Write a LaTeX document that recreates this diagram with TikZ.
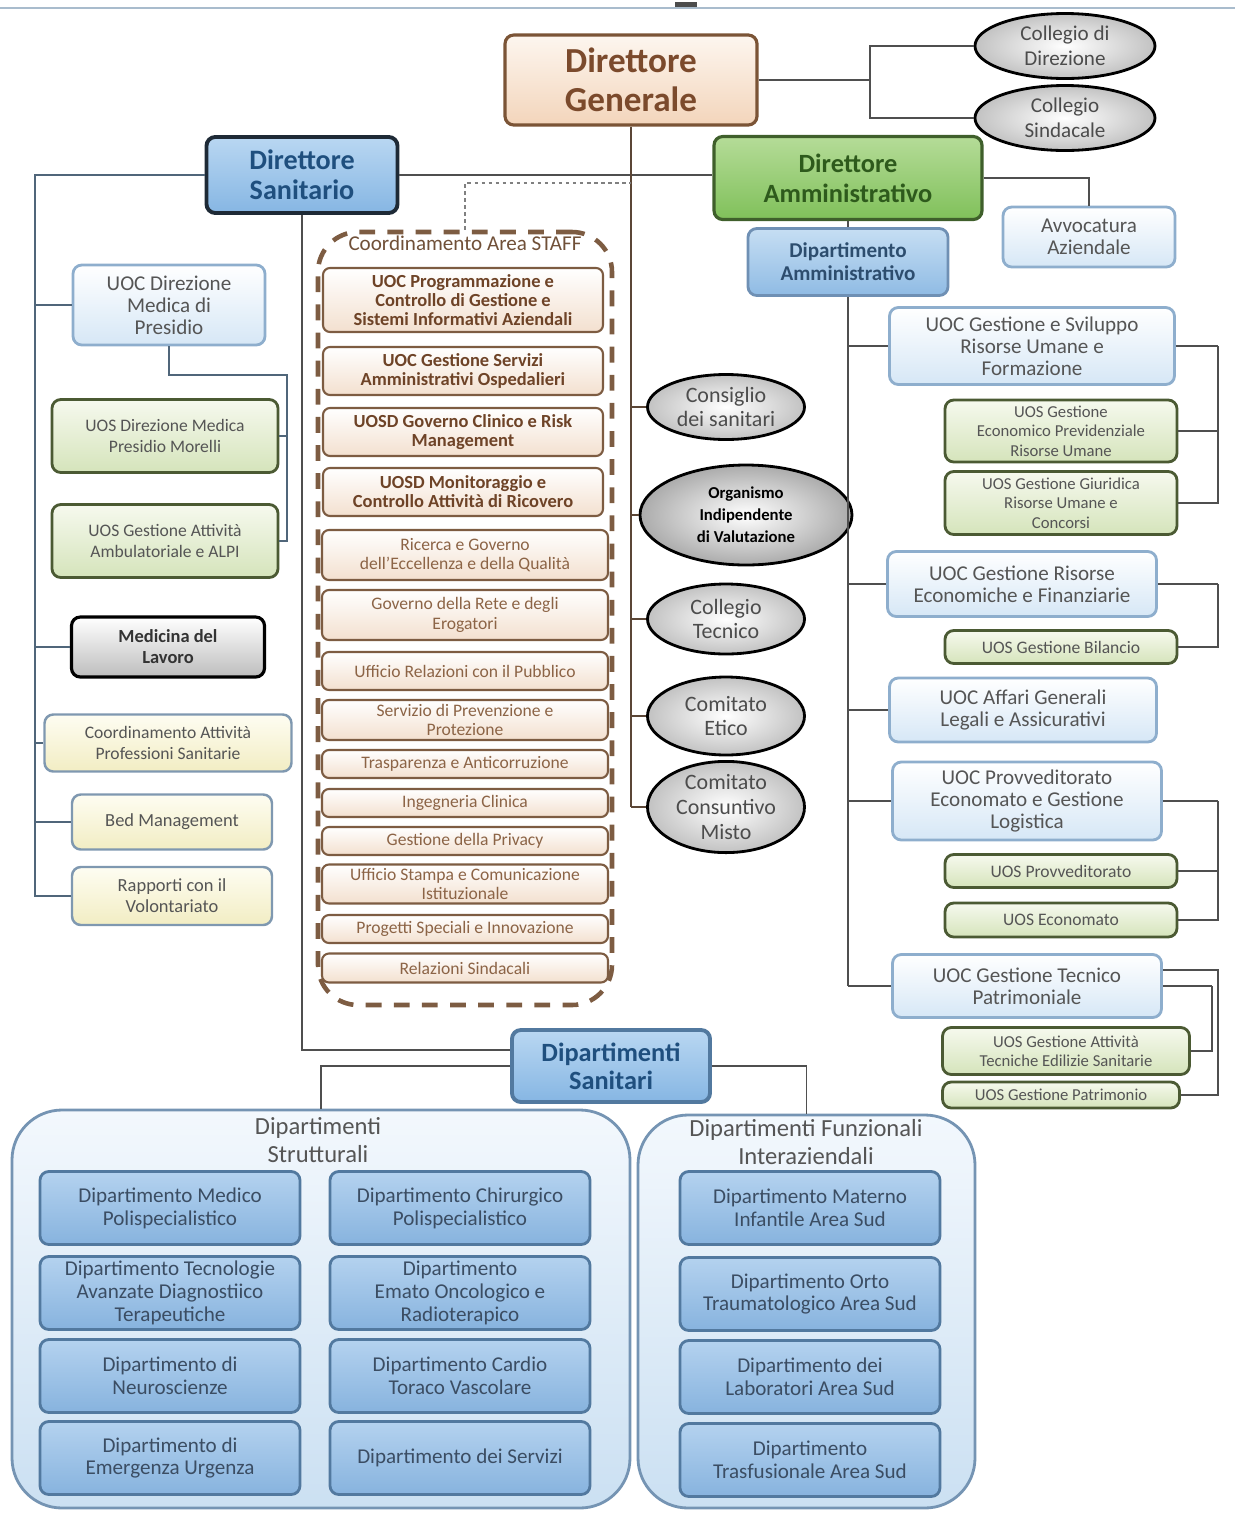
\documentclass[tikz,border=0pt]{standalone}
\usepackage{fontspec}
\setmainfont{Carlito}
\usetikzlibrary{shapes.geometric}

\definecolor{genhi}{HTML}{FDF6EF}\definecolor{genlo}{HTML}{F3D5BB}
\definecolor{genbrd}{HTML}{7B5436}\definecolor{gentxt}{HTML}{7B4A2C}
\definecolor{dshi}{HTML}{B9D7F2}\definecolor{dslo}{HTML}{86B6E3}
\definecolor{dsbrd}{HTML}{1E2A36}\definecolor{dstxt}{HTML}{1F4F7E}
\definecolor{dahi}{HTML}{B5DC98}\definecolor{dalo}{HTML}{80C05A}
\definecolor{dabrd}{HTML}{3F5F2B}\definecolor{datxt}{HTML}{2E5A1C}
\definecolor{damhi}{HTML}{C6DEF3}\definecolor{damlo}{HTML}{8FBBE4}
\definecolor{dambrd}{HTML}{6F90B4}\definecolor{damtxt}{HTML}{2D4D6E}
\definecolor{lblo}{HTML}{D6E7F6}\definecolor{lbbrd}{HTML}{8EAECD}
\definecolor{grhi}{HTML}{F6F9EE}\definecolor{grlo}{HTML}{D5E4BB}
\definecolor{grbrd}{HTML}{4B5A33}
\definecolor{yehi}{HTML}{FEFDF2}\definecolor{yelo}{HTML}{F2EDC3}
\definecolor{yebrd}{HTML}{7F98B0}
\definecolor{gylo}{HTML}{BDBDBD}
\definecolor{stlo}{HTML}{F3E0CF}\definecolor{stbrd}{HTML}{7D5C42}
\definecolor{sttxt}{HTML}{6E4327}\definecolor{sttxtl}{HTML}{8C6446}
\definecolor{elout}{HTML}{C2C2C2}\definecolor{eloutd}{HTML}{ABABAB}
\definecolor{dephi}{HTML}{B4D2EF}\definecolor{deplo}{HTML}{87B3DE}
\definecolor{depbrd}{HTML}{52799F}\definecolor{deptxt}{HTML}{3B4D63}
\definecolor{grphi}{HTML}{F3F8FD}\definecolor{grplo}{HTML}{CBE0F2}
\definecolor{grpbrd}{HTML}{7594B3}
\definecolor{txtgray}{HTML}{555555}
\definecolor{linkc}{HTML}{4F4F4F}\definecolor{linkl}{HTML}{50667A}
\definecolor{linkb}{HTML}{5B4636}\definecolor{topline}{HTML}{A9BCCD}

\begin{document}
\begin{tikzpicture}[thick,
    box/.style={rectangle,rounded corners=5pt,align=center,inner sep=1pt,line width=1.4pt},
    gen node/.style={box,draw=genbrd,top color=genhi,bottom color=genlo,text=gentxt,line width=1.8pt,
      font=\bfseries\fontsize{20}{22}\selectfont},
    dsan node/.style={box,draw=dsbrd,top color=dshi,bottom color=dslo,text=dstxt,line width=2.2pt,
      font=\bfseries\fontsize{16}{17}\selectfont},
    damm node/.style={box,draw=dabrd,top color=dahi,bottom color=dalo,text=datxt,line width=1.8pt,
      font=\bfseries\fontsize{15}{17}\selectfont},
    dip node/.style={box,draw=dambrd,top color=damhi,bottom color=damlo,text=damtxt,line width=1.6pt,
      font=\bfseries\fontsize{12}{13}\selectfont},
    uoc node/.style={box,draw=lbbrd,top color=white,bottom color=lblo,text=txtgray,line width=1.6pt,
      font=\fontsize{12}{12.5}\selectfont},
    uos node/.style={box,draw=grbrd,top color=grhi,bottom color=grlo,text=txtgray,line width=1.6pt,
      font=\fontsize{10}{11.5}\selectfont},
    gray node/.style={box,draw=black,top color=white,bottom color=gylo,text=black!80,line width=1.8pt,
      font=\bfseries\fontsize{10.5}{12}\selectfont},
    yel node/.style={box,draw=yebrd,top color=yehi,bottom color=yelo,text=txtgray,line width=1.4pt,
      font=\fontsize{10.5}{12}\selectfont},
    staff node/.style={box,rounded corners=4pt,draw=stbrd,top color=white,bottom color=stlo,text=sttxt,
      line width=1.2pt,minimum width=5.60cm,font=\bfseries\fontsize{10.5}{10.8}\selectfont},
    staffl node/.style={staff node,minimum width=5.72cm,text=sttxtl,font=\fontsize{10}{11}\selectfont},
    ell node/.style={ellipse,draw=black,line width=1.6pt,inner color=white,outer color=elout,
      align=center,inner sep=0pt,text=black!70,font=\fontsize{12.5}{14}\selectfont},
    dep node/.style={box,draw=depbrd,top color=dephi,bottom color=deplo,text=deptxt,line width=1.6pt,
      minimum width=5.20cm,minimum height=1.46cm,font=\fontsize{12}{13}\selectfont},
    group node/.style={rectangle,rounded corners=1cm,draw=grpbrd,top color=grphi,bottom color=grplo,
      line width=1.6pt},
    title node/.style={align=center,text=txtgray,font=\fontsize{14}{16}\selectfont},
    link/.style={draw=linkc,line width=1.1pt},
    linkleft/.style={draw=linkl,line width=1.1pt}
  ]
  \useasboundingbox (0,0) rectangle (24.70,-30.30);
  \draw[topline,line width=1pt] (0,-0.16) -- (24.70,-0.16);
  \fill[black!70] (13.50,-0.04) rectangle (13.94,-0.14);

  % top level
  \node[gen node,minimum width=5.04cm,minimum height=1.80cm] (dg) at (12.62,-1.60) {Direttore\\Generale};
  \node[ell node,minimum width=3.60cm,minimum height=1.30cm,font=\fontsize{12}{14}\selectfont] (cdir) at (21.30,-0.92) {Collegio di\\Direzione};
  \node[ell node,minimum width=3.60cm,minimum height=1.30cm,font=\fontsize{12}{14}\selectfont] (csin) at (21.30,-2.36) {Collegio\\Sindacale};
  \node[dsan node,minimum width=3.82cm,minimum height=1.52cm] (ds) at (6.04,-3.50) {Direttore\\Sanitario};
  \node[damm node,minimum width=5.36cm,minimum height=1.66cm] (da) at (16.96,-3.56) {Direttore\\Amministrativo};
  \node[uoc node,minimum width=3.44cm,minimum height=1.20cm] (avv) at (21.78,-4.74) {Avvocatura\\Aziendale};
  \node[dip node,minimum width=4.00cm,minimum height=1.34cm] (dam) at (16.96,-5.24) {Dipartimento\\Amministrativo};

  % area sanitaria
  \node[uoc node,minimum width=3.84cm,minimum height=1.60cm] (dmp) at (3.38,-6.10) {UOC Direzione\\Medica di\\Presidio};
  \node[uos node,minimum width=4.52cm,minimum height=1.46cm] (morelli) at (3.30,-8.72) {UOS Direzione Medica\\Presidio Morelli};
  \node[uos node,minimum width=4.52cm,minimum height=1.46cm] (alpi) at (3.30,-10.82) {UOS Gestione Attività\\Ambulatoriale e ALPI};
  \node[gray node,minimum width=3.86cm,minimum height=1.20cm] (medlav) at (3.36,-12.94) {Medicina del\\Lavoro};
  \node[yel node,minimum width=4.94cm,minimum height=1.14cm,font=\fontsize{10}{12}\selectfont] (caps) at (3.36,-14.86) {Coordinamento Attività\\Professioni Sanitarie};
  \node[yel node,minimum width=4.00cm,minimum height=1.10cm] (bed) at (3.44,-16.44) {Bed Management};
  \node[yel node,minimum width=4.00cm,minimum height=1.16cm] (volont) at (3.44,-17.92) {Rapporti con il\\Volontariato};

  % area staff
  \node[draw=stbrd,line width=2.6pt,dash pattern=on 9pt off 7pt,rounded corners=0.8cm,
        minimum width=5.88cm,minimum height=15.46cm] (staff) at (9.30,-12.37) {};
  \node[text=sttxtl!80!black,font=\fontsize{12}{14}\selectfont] (stafft) at (9.30,-4.86) {Coordinamento Area STAFF};
  \node[staff node,minimum height=1.28cm] (s1) at (9.26,-6.00) {UOC Programmazione e\\Controllo di Gestione e\\Sistemi Informativi Aziendali};
  \node[staff node,minimum height=0.96cm] (s2) at (9.26,-7.42) {UOC Gestione Servizi\\Amministrativi Ospedalieri};
  \node[staff node,minimum height=0.96cm] (s3) at (9.26,-8.64) {UOSD Governo Clinico e Risk\\Management};
  \node[staff node,minimum height=0.96cm] (s4) at (9.26,-9.84) {UOSD Monitoraggio e\\Controllo Attività di Ricovero};
  \node[staffl node,minimum height=1.00cm] (s5) at (9.30,-11.10) {Ricerca e Governo\\dell’Eccellenza e della Qualità};
  \node[staffl node,minimum height=1.00cm] (s6) at (9.30,-12.30) {Governo della Rete e degli\\Erogatori};
  \node[staffl node,minimum height=0.76cm] (s7) at (9.30,-13.42) {Ufficio Relazioni con il Pubblico};
  \node[staffl node,minimum height=0.80cm] (s8) at (9.30,-14.40) {Servizio di Prevenzione e\\Protezione};
  \node[staffl node,minimum height=0.56cm] (s9) at (9.30,-15.28) {Trasparenza e Anticorruzione};
  \node[staffl node,minimum height=0.56cm] (s10) at (9.30,-16.06) {Ingegneria Clinica};
  \node[staffl node,minimum height=0.56cm] (s11) at (9.30,-16.82) {Gestione della Privacy};
  \node[staffl node,minimum height=0.78cm] (s12) at (9.30,-17.68) {Ufficio Stampa e Comunicazione\\Istituzionale};
  \node[staffl node,minimum height=0.56cm] (s13) at (9.30,-18.58) {Progetti Speciali e Innovazione};
  \node[staffl node,minimum height=0.58cm] (s14) at (9.30,-19.36) {Relazioni Sindacali};

  % organi
  \node[ell node,minimum width=3.14cm,minimum height=1.30cm] (cons) at (14.52,-8.14) {Consiglio\\dei sanitari};
  \node[ell node,minimum width=4.24cm,minimum height=2.00cm,outer color=eloutd,text=black,font=\bfseries\fontsize{9.5}{12.5}\selectfont] (oiv) at (14.92,-10.30) {Organismo\\Indipendente\\di Valutazione};
  \node[ell node,minimum width=3.14cm,minimum height=1.40cm] (ctec) at (14.52,-12.38) {Collegio\\Tecnico};
  \node[ell node,minimum width=3.14cm,minimum height=1.56cm] (cetico) at (14.52,-14.32) {Comitato\\Etico};
  \node[ell node,minimum width=3.14cm,minimum height=1.60cm] (ccm) at (14.52,-16.14) {Comitato\\Consuntivo\\Misto};

  % area amministrativa
  \node[uoc node,minimum width=5.70cm,minimum height=1.54cm] (uru) at (20.64,-6.92) {UOC Gestione e Sviluppo\\Risorse Umane e\\Formazione};
  \node[uos node,minimum width=4.64cm,minimum height=1.24cm,font=\fontsize{9.5}{11}\selectfont] (uosep) at (21.22,-8.62) {UOS Gestione\\Economico Previdenziale\\Risorse Umane};
  \node[uos node,minimum width=4.64cm,minimum height=1.26cm,font=\fontsize{9.5}{11}\selectfont] (uosgg) at (21.22,-10.06) {UOS Gestione Giuridica\\Risorse Umane e\\Concorsi};
  \node[uoc node,minimum width=5.38cm,minimum height=1.30cm] (uref) at (20.44,-11.68) {UOC Gestione Risorse\\Economiche e Finanziarie};
  \node[uos node,minimum width=4.64cm,minimum height=0.66cm] (bil) at (21.22,-12.94) {UOS Gestione Bilancio};
  \node[uoc node,minimum width=5.34cm,minimum height=1.28cm] (uagl) at (20.46,-14.20) {UOC Affari Generali\\Legali e Assicurativi};
  \node[uoc node,minimum width=5.38cm,minimum height=1.56cm] (uprov) at (20.54,-16.02) {UOC Provveditorato\\Economato e Gestione\\Logistica};
  \node[uos node,minimum width=4.64cm,minimum height=0.66cm] (prov) at (21.22,-17.42) {UOS Provveditorato};
  \node[uos node,minimum width=4.64cm,minimum height=0.68cm] (econ) at (21.22,-18.40) {UOS Economato};
  \node[uoc node,minimum width=5.38cm,minimum height=1.26cm] (utp) at (20.54,-19.72) {UOC Gestione Tecnico\\Patrimoniale};
  \node[uos node,minimum width=4.94cm,minimum height=0.94cm,font=\fontsize{9.5}{11}\selectfont] (edil) at (21.32,-21.02) {UOS Gestione Attività\\Tecniche Edilizie Sanitarie};
  \node[uos node,minimum width=4.74cm,minimum height=0.52cm,font=\fontsize{9.5}{11}\selectfont] (patr) at (21.22,-21.90) {UOS Gestione Patrimonio};

  % dipartimenti
  \node[dsan node,draw=depbrd,minimum width=3.96cm,minimum height=1.44cm,font=\bfseries\fontsize{15}{16}\selectfont] (dsan) at (12.22,-21.32) {Dipartimenti\\Sanitari};
  \node[group node,minimum width=12.36cm,minimum height=7.96cm] (gstr) at (6.42,-26.18) {};
  \node[group node,minimum width=6.74cm,minimum height=7.86cm] (gfun) at (16.13,-26.23) {};
  \node[title node] (tstr) at (6.36,-22.80) {Dipartimenti\\Strutturali};
  \node[title node] (tfun) at (16.12,-22.84) {Dipartimenti Funzionali\\Interaziendali};
  \node[dep node] (d1) at (3.40,-24.16) {Dipartimento Medico\\Polispecialistico};
  \node[dep node] (d2) at (9.20,-24.16) {Dipartimento Chirurgico\\Polispecialistico};
  \node[dep node] (d3) at (3.40,-25.86) {Dipartimento Tecnologie\\Avanzate Diagnostiico\\Terapeutiche};
  \node[dep node] (d4) at (9.20,-25.86) {Dipartimento\\Emato Oncologico e\\Radioterapico};
  \node[dep node] (d5) at (3.40,-27.52) {Dipartimento di\\Neuroscienze};
  \node[dep node] (d6) at (9.20,-27.52) {Dipartimento Cardio\\Toraco Vascolare};
  \node[dep node] (d7) at (3.40,-29.16) {Dipartimento di\\Emergenza Urgenza};
  \node[dep node] (d8) at (9.20,-29.16) {Dipartimento dei Servizi};
  \node[dep node] (f1) at (16.20,-24.16) {Dipartimento Materno\\Infantile Area Sud};
  \node[dep node] (f2) at (16.20,-25.88) {Dipartimento Orto\\Traumatologico Area Sud};
  \node[dep node] (f3) at (16.20,-27.54) {Dipartimento dei\\Laboratori Area Sud};
  \node[dep node] (f4) at (16.20,-29.20) {Dipartimento\\Trasfusionale Area Sud};

  % connectors
  \coordinate (cb) at (17.40,-1.60);
  \coordinate (lft) at (0.70,-3.50);
  \coordinate (lb) at (5.74,-7.50);
  \coordinate (dgb) at (12.62,-16.14);
  \coordinate (sdot) at (12.62,-3.66);
  \coordinate (damb) at (16.96,-19.72);
  \coordinate (rb1) at (24.36,-6.92);
  \coordinate (rb2) at (24.36,-11.68);
  \coordinate (rb3) at (24.36,-16.02);
  \coordinate (rb4) at (24.36,-19.40);
  \coordinate (rb5) at (24.24,-19.72);

  \path[link]%
   (dg.east) edge (cb)
   (ds.east) edge (ds.east -| da.west)
   (da.south) edge (dam.north)
   (dam.south) edge (damb)
   (damb |- uru.west) edge (uru.west)
   (damb |- uref.west) edge (uref.west)
   (damb |- uagl.west) edge (uagl.west)
   (damb |- uprov.west) edge (uprov.west)
   (damb |- utp.west) edge (utp.west)
   (uru.east) edge (rb1)
   (rb1 |- uosep.east) edge (uosep.east)
   (uref.east) edge (rb2)
   (uprov.east) edge (rb3)
   (rb3 |- prov.east) edge (prov.east)
   (utp.east) edge (rb5);
  \path[link,draw=linkb]%
   (dg.south) edge (dgb)
   (dgb |- cons.west) edge (cons.west)
   (dgb |- oiv.west) edge (oiv.west)
   (dgb |- ctec.west) edge (ctec.west)
   (dgb |- cetico.west) edge (cetico.west)
   (dgb |- ccm.west) edge (ccm.west);
  \draw[link] (cdir.west) -| (cb) |- (csin.west);
  \draw[link] (da.east) -| (avv.north);
  \draw[link] (rb1) |- (uosgg.east);
  \draw[link] (rb2) |- (bil.east);
  \draw[link] (rb3) |- (econ.east);
  \draw[link] ([yshift=0.32cm]utp.east) -- (rb4) |- (patr.east);
  \draw[link] (rb5) |- (edil.east);
  \draw[linkleft] (ds.west) -- (lft) |- (volont.west);
  \path[linkleft]%
   (lft |- dmp.west) edge (dmp.west)
   (lft |- medlav.west) edge (medlav.west)
   (lft |- caps.west) edge (caps.west)
   (lft |- bed.west) edge (bed.west)
   (lb |- morelli.east) edge (morelli.east);
  \draw[linkleft] (dmp.south) |- (lb) |- (alpi.east);
  \draw[black!50,line width=1pt,dash pattern=on 2pt off 2pt] (staff.north) |- (sdot);
  \draw[link] (ds.south) |- ([yshift=0.32cm]dsan.west);
  \draw[link] (dsan.west) -| (gstr.north);
  \draw[link] (dsan.east) -| (gfun.north);
\end{tikzpicture}
\end{document}
